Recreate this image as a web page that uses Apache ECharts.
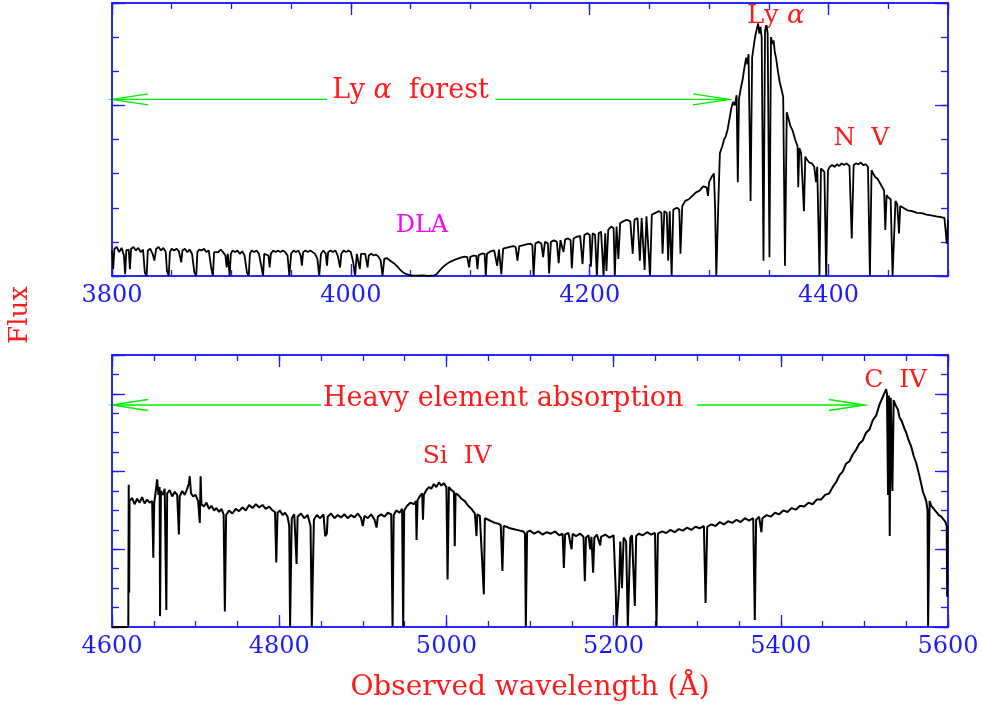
<!DOCTYPE html>
<html>
<head>
<meta charset="utf-8">
<title>Quasar spectrum</title>
<script src="https://cdn.jsdelivr.net/npm/echarts@6/dist/echarts.min.js"></script>
<style>
  html, body { margin: 0; padding: 0; background: #fff; }
  #chart { width: 982px; height: 706px; }
</style>
</head>
<body>
<div id="chart"></div>
<script>
  // spectrum: [wavelength (A), flux]
  const topSpectrum = [
    [3800,0.15],[3801,0.04],[3802,0.16],[3804,0.17],[3806,0.14],[3808,0.165],[3810,0.12],[3811,0.01],[3812,0.15],[3814,0.155],
    [3815,0.04],[3816,0.16],[3818,0.17],[3820,0.15],[3822,0.165],[3824,0.14],[3826,0.155],[3827.5,0.02],[3829,0],[3830,0.15],
    [3832,0.16],[3834,0.13],[3835.5,0.09],[3837,0.16],[3839,0.17],[3841,0.15],[3843,0.165],[3845,0.14],[3846,0.03],[3847.5,0],
    [3848.5,0.14],[3850,0.16],[3852,0.15],[3854,0.16],[3856,0.145],[3858,0.08],[3859,0.15],[3861,0.16],[3863,0.14],[3865,0.155],
    [3867,0.13],[3869,0.02],[3870.5,0],[3871.5,0.14],[3873,0.155],[3875,0.15],[3877,0.16],[3879,0.14],[3881,0.15],[3883,0.05],
    [3884.5,0],[3885.5,0.14],[3887,0.15],[3889,0.14],[3891,0.155],[3893,0.14],[3895,0.12],[3896,0.05],[3897,0.13],[3898.5,0],
    [3899.5,0.13],[3901,0.15],[3903,0.14],[3905,0.15],[3907,0.13],[3909,0.145],[3911,0.12],[3913,0.02],[3914.5,0],[3915.5,0.13],
    [3917,0.15],[3919,0.14],[3921,0.15],[3923,0.13],[3925,0.06],[3926.5,0],[3927.5,0.13],[3929,0.14],[3931,0.12],[3932,0.05],
    [3933,0.13],[3935,0.15],[3937,0.14],[3939,0.15],[3941,0.14],[3943,0.15],[3945,0.14],[3947,0.12],[3948.5,0],[3950,0.13],
    [3952,0.15],[3954,0.14],[3956,0.15],[3958,0.12],[3959,0.06],[3960,0.14],[3962,0.15],[3964,0.14],[3966,0.15],[3968,0.14],
    [3970,0.13],[3972,0.1],[3973.5,0],[3975,0.13],[3977,0.15],[3979,0.13],[3980,0.06],[3981,0.14],[3983,0.15],[3985,0.14],
    [3987,0.15],[3989,0.12],[3991,0.05],[3992,0.13],[3994,0.15],[3996,0.14],[3998,0.15],[4000,0.14],[4002,0.08],[4003.5,0],
    [4005,0.13],[4006.5,0.12],[4007.5,0.04],[4008.5,0.13],[4010,0.14],[4012,0.13],[4014,0.05],[4015,0.12],[4017,0.13],[4019,0.12],
    [4021,0.125],[4023,0.115],[4025,0.09],[4026.5,0],[4028,0.1],[4030,0.105],[4033,0.09],[4036,0.075],[4039,0.055],[4041.5,0.035],
    [4044,0.02],[4046,0.012],[4050,0.003],[4055,0.002],[4060,0.004],[4065,0.001],[4070,0.004],[4072,0.012],[4073.5,0.025],[4076,0.045],
    [4078,0.058],[4081,0.075],[4084,0.086],[4088,0.098],[4092,0.108],[4095,0.114],[4097.5,0.11],[4099,0.05],[4100,0.112],[4103,0.12],
    [4105,0.118],[4106,0.04],[4107,0.122],[4110,0.132],[4112,0.13],[4113,0],[4114,0.13],[4117,0.145],[4120,0.15],[4122.5,0.06],
    [4124,0.155],[4126,0.01],[4127.5,0.16],[4130,0.165],[4133,0.17],[4136,0.175],[4138,0.17],[4139.5,0.09],[4141,0.175],[4144,0.18],
    [4147,0.185],[4150,0.19],[4152,0.18],[4153,0],[4154.5,0.19],[4157,0.2],[4159.5,0.19],[4161,0.11],[4162.5,0.2],[4165,0.19],
    [4166,0.015],[4167.5,0.2],[4170,0.21],[4172.5,0.2],[4174,0.075],[4175.5,0.21],[4177,0.2],[4178,0.14],[4179.5,0.215],[4182,0.22],
    [4184,0.21],[4185,0.045],[4186.5,0.22],[4189,0.23],[4192,0.235],[4194,0.07],[4195.5,0.24],[4198,0.25],[4200,0.24],[4201,0.055],
    [4202.5,0.25],[4204.5,0.24],[4206,0],[4207.5,0.25],[4209.5,0.26],[4211.6,0],[4213,0.25],[4214,0.03],[4215.5,0.27],[4218,0.29],
    [4220,0.28],[4221,0],[4222.5,0.29],[4224,0.1],[4225.5,0.31],[4228,0.32],[4231,0.33],[4234,0.32],[4236,0.13],[4237.5,0.33],
    [4240,0.34],[4242,0.09],[4243.5,0.34],[4245,0.33],[4246,0.035],[4247.5,0.35],[4249,0.34],[4250.5,0],[4252,0.36],[4255,0.37],
    [4258,0.38],[4260,0.37],[4261,0.13],[4262.5,0.38],[4264.5,0.37],[4265.7,0.09],[4267,0.38],[4268.6,0],[4270,0.39],[4273,0.4],
    [4275,0.39],[4276,0.13],[4277.5,0.41],[4280,0.44],[4283,0.45],[4286,0.47],[4289,0.49],[4292,0.5],[4295,0.525],[4298,0.52],
    [4299,0.47],[4300,0.55],[4302,0.58],[4304,0.6],[4305,0.4],[4306,0],[4307,0],[4308,0.5],[4309,0.72],[4311,0.76],
    [4312.5,0.8],[4314,0.82],[4315.5,0.86],[4317,0.92],[4318.5,0.98],[4320,1.02],[4321.5,1.0],[4323,1.06],[4324,0.55],[4325,1.04],
    [4326.5,1.1],[4328,1.15],[4329.5,1.22],[4331,1.28],[4332,1.24],[4333,1.3],[4334.7,0.44],[4336,1.28],[4337,1.33],[4338,1.38],
    [4339,1.42],[4340,1.45],[4341,1.48],[4342,1.42],[4343,1.46],[4344,1.4],[4345.5,0.09],[4346.8,1.44],[4348,1.47],[4349,1.42],
    [4350.5,0.11],[4351.8,1.4],[4353,1.36],[4354,1.38],[4355,1.31],[4356,1.28],[4357.8,1.19],[4359,1.14],[4360.7,1.09],[4362,1.05],
    [4363.5,0.06],[4365,0.96],[4366.5,0.92],[4368,0.88],[4370,0.85],[4372,0.8],[4374,0.76],[4374.6,0.52],[4375.5,0.75],[4377,0.72],
    [4379.4,0.38],[4380.5,0.7],[4382,0.68],[4384,0.665],[4386,0.66],[4388,0.64],[4389.5,0.55],[4390.5,0.64],[4392.4,0],[4393.6,0.63],
    [4395,0.62],[4396.5,0.61],[4398,0],[4399.5,0.62],[4401,0.64],[4403,0.65],[4405,0.64],[4407,0.655],[4409,0.645],[4411,0.66],
    [4413,0.65],[4415,0.66],[4417.5,0.645],[4419.4,0.22],[4421,0.65],[4423,0.66],[4425,0.655],[4427,0.665],[4429,0.65],[4431,0.655],
    [4433,0.64],[4434.6,0],[4436,0.62],[4437.4,0.6],[4439,0.58],[4441,0.57],[4443,0.545],[4445,0.52],[4446.5,0.5],[4447.5,0.27],
    [4448.6,0.475],[4450,0.46],[4452,0.45],[4453.6,0],[4455,0],[4456,0.44],[4457.5,0.42],[4459,0.25],[4460,0.41],[4462.5,0.4],
    [4466,0.385],[4470,0.38],[4474,0.37],[4478,0.368],[4482,0.36],[4486,0.355],[4490,0.35],[4494,0.345],[4497,0.34],[4499,0.19],
    [4500,0.33]
  ];

  const bottomSpectrum = [
    [4600,0],[4619.5,0],[4620,1.83],[4620.5,0.44],[4621,1.62],[4624,1.66],[4627,1.58],[4630,1.65],[4633,1.6],[4636,1.67],
    [4639,1.59],[4642,1.64],[4645,1.6],[4648,1.62],[4649.4,0.89],[4650.5,1.6],[4652,1.72],[4654,1.9],[4655.5,1.7],[4657,1.8],
    [4657.5,0.14],[4658.5,1.75],[4661,1.7],[4663,1.78],[4665,0.22],[4666,1.72],[4669,1.76],[4672,1.68],[4675,1.74],[4678,1.7],
    [4680,1.19],[4681,1.68],[4684,1.75],[4687,1.7],[4690,1.78],[4692,1.85],[4693,1.94],[4694.5,1.72],[4697,1.68],[4700,1.7],
    [4703,1.62],[4705,1.34],[4706,1.94],[4707,1.58],[4710,1.55],[4713,1.6],[4716,1.52],[4719,1.56],[4722,1.5],[4725,1.53],
    [4728,1.48],[4731,1.52],[4733.5,1.45],[4735,0.2],[4736.5,1.44],[4740,1.5],[4744,1.46],[4748,1.52],[4752,1.49],[4756,1.54],
    [4760,1.5],[4764,1.57],[4768,1.53],[4772,1.58],[4776,1.54],[4780,1.57],[4784,1.52],[4788,1.55],[4792,1.5],[4795,1.48],
    [4796.5,0.83],[4798,1.47],[4801,1.5],[4804,1.44],[4807,1.47],[4810,1.42],[4812,1.3],[4813,0],[4814,0],[4815,1.4],
    [4818,1.45],[4820.8,0.81],[4822,1.42],[4826,1.46],[4830,1.4],[4834,1.44],[4837.5,1.3],[4839,0],[4840.5,0],[4841.5,1.38],
    [4845,1.44],[4849,1.4],[4853,1.45],[4855,1.17],[4857,1.2],[4858,1.42],[4862,1.46],[4866,1.4],[4870,1.44],[4874,1.41],
    [4878,1.45],[4882,1.4],[4886,1.44],[4890,1.41],[4894,1.46],[4898,1.4],[4900,1.3],[4902,1.43],[4906,1.4],[4910,1.45],
    [4914,1.38],[4916.5,1.28],[4918,1.42],[4922,1.45],[4926,1.42],[4930,1.47],[4934,1.45],[4935.6,0],[4937,1.44],[4940,1.5],
    [4944,1.47],[4947,1.52],[4948.3,0],[4949.5,1.5],[4953,1.56],[4957,1.6],[4961,1.58],[4963.5,1.62],[4964.3,1.12],[4965.5,1.63],
    [4968,1.68],[4971,1.72],[4972,1.38],[4973,1.7],[4976,1.76],[4979,1.8],[4982,1.78],[4985,1.84],[4988,1.8],[4991,1.86],
    [4994,1.82],[4997,1.85],[5000,1.8],[5001.4,0.61],[5003,1.8],[5006,1.76],[5009,1.74],[5010,1.04],[5011,1.72],[5014,1.7],
    [5018,1.65],[5022,1.62],[5026,1.56],[5030,1.52],[5034,1.46],[5036,1.17],[5037,1.45],[5040,1.43],[5042,1.42],[5044.8,0.42],
    [5046,1.4],[5050,1.38],[5054,1.36],[5058,1.34],[5062,1.33],[5065,1.31],[5067,0.72],[5068.5,1.3],[5072,1.29],[5076,1.27],
    [5080,1.26],[5084,1.25],[5088,1.24],[5092,1.23],[5094,1.2],[5095,0],[5096.5,1.22],[5100,1.24],[5105,1.2],[5110,1.23],
    [5115,1.19],[5120,1.22],[5125,1.2],[5130,1.23],[5135,1.18],[5139,1.2],[5140.5,0.76],[5142,1.19],[5146,1.21],[5149.7,1.0],
    [5151,1.2],[5155,1.17],[5160,1.2],[5164,1.16],[5165.6,0.59],[5167,1.15],[5170,1.18],[5172,1.0],[5173.5,1.16],[5175.5,0.7],
    [5177,1.15],[5180,1.19],[5184,1.05],[5185,1.16],[5190,1.19],[5195,1.15],[5200,1.18],[5202.5,0.5],[5203.5,0],[5205.5,0],
    [5206.5,0.5],[5208,1.1],[5210,0.5],[5212,1.15],[5215,1.1],[5217,0],[5218.6,0],[5220,1.15],[5222,1.18],[5225.4,0.27],
    [5227,1.17],[5230,1.2],[5235,1.18],[5240,1.22],[5245,1.19],[5249.5,1.21],[5251.3,0],[5253,1.2],[5258,1.23],[5263,1.21],
    [5268,1.25],[5273,1.22],[5278,1.26],[5283,1.24],[5288,1.28],[5293,1.25],[5298,1.29],[5303,1.27],[5308,1.3],[5310,0.31],
    [5312,1.29],[5317,1.32],[5322,1.3],[5327,1.35],[5332,1.32],[5337,1.36],[5342,1.34],[5347,1.38],[5352,1.35],[5357,1.4],
    [5362,1.37],[5367,1.4],[5368.9,0.09],[5370.5,1.38],[5374,1.42],[5376.8,1.22],[5378,1.4],[5383,1.44],[5388,1.42],[5393,1.47],
    [5398,1.45],[5403,1.5],[5408,1.48],[5413,1.53],[5418,1.51],[5423,1.56],[5428,1.55],[5433,1.6],[5438,1.58],[5443,1.64],
    [5448,1.64],[5453,1.7],[5458,1.72],[5462,1.8],[5466,1.86],[5470,1.95],[5474,2.0],[5478,2.1],[5482,2.13],[5486,2.22],
    [5490,2.28],[5494,2.36],[5498,2.4],[5502,2.5],[5506,2.54],[5510,2.66],[5514,2.72],[5518,2.86],[5520,2.88],[5522,2.96],
    [5524,2.94],[5526,3.06],[5527,3.0],[5528.3,1.7],[5529.3,2.98],[5530.3,1.17],[5531.5,2.95],[5533.5,1.75],[5535,2.92],[5537,2.86],
    [5540,2.8],[5542,2.7],[5545,2.64],[5548,2.55],[5550,2.5],[5553,2.4],[5556,2.32],[5559,2.2],[5562,2.11],[5565,1.98],
    [5568,1.84],[5570,1.74],[5572,1.68],[5574,1.62],[5575.5,1.5],[5576.2,0],[5577,0],[5578,1.62],[5580,1.56],[5583,1.52],
    [5586,1.48],[5589,1.44],[5592,1.42],[5595,1.38],[5597,1.35],[5598.5,1.3],[5599,0.39],[5599.5,1.28],[5600,1.3]
  ];

  const topRange = [3800, 4500];
  const bottomRange = [4600, 5600];

  const BLUE = '#1a1aff';
  const RED = '#ff1a1a';
  const GREEN = '#00ee00';
  const SERIF = '"DejaVu Serif", "Liberation Serif", serif';

  // one grid gets 4 x axes (major/minor, bottom/top) and 4 y axes (major/minor, left/right)
  function frameX(grid, range, showMax) {
    const base = {
      type: 'value', gridIndex: grid, min: range[0], max: range[1],
      axisLine: { show: true, onZero: false, lineStyle: { color: BLUE, width: 1.5 } },
      splitLine: { show: false }
    };
    const noLabel = { show: false };
    return [
      Object.assign({}, base, {
        position: 'bottom', interval: 200,
        axisTick: { inside: true, length: 12, lineStyle: { color: BLUE, width: 1.3 } },
        axisLabel: {
          color: BLUE, fontSize: 24, fontFamily: SERIF, margin: 8,
          showMinLabel: true, showMaxLabel: showMax,
          formatter: function (v) { return String(v); }
        }
      }),
      Object.assign({}, base, {
        position: 'bottom', interval: 50,
        axisTick: { inside: true, length: 6, lineStyle: { color: BLUE, width: 1.3 } },
        axisLabel: noLabel
      }),
      Object.assign({}, base, {
        position: 'top', interval: 200,
        axisTick: { inside: true, length: 12, lineStyle: { color: BLUE, width: 1.3 } },
        axisLabel: noLabel
      }),
      Object.assign({}, base, {
        position: 'top', interval: 50,
        axisTick: { inside: true, length: 6, lineStyle: { color: BLUE, width: 1.3 } },
        axisLabel: noLabel
      })
    ];
  }

  function frameY(grid, max, minorStep) {
    const base = {
      type: 'value', gridIndex: grid, min: 0, max: max,
      axisLine: { show: true, onZero: false, lineStyle: { color: BLUE, width: 1.5 } },
      axisLabel: { show: false },
      splitLine: { show: false }
    };
    return ['left', 'right'].flatMap(function (pos) {
      return [
        Object.assign({}, base, {
          position: pos, interval: 1,
          axisTick: { inside: true, length: 13, lineStyle: { color: BLUE, width: 1.3 } }
        }),
        Object.assign({}, base, {
          position: pos, interval: minorStep,
          axisTick: { inside: true, length: 7, lineStyle: { color: BLUE, width: 1.3 } }
        })
      ];
    });
  }

  const chart = echarts.init(document.getElementById('chart'));

  chart.setOption({
    animation: false,
    backgroundColor: '#fff',
    grid: [
      { left: 112, top: 3, width: 836, height: 273, outerBoundsMode: 'none' },
      { left: 112, top: 355, width: 836, height: 272, outerBoundsMode: 'none' }
    ],
    xAxis: frameX(0, topRange, false).concat(frameX(1, bottomRange, true)),
    yAxis: frameY(0, 1.6, 0.2).concat(frameY(1, 3.5, 0.25)),
    series: [
      {
        type: 'line', xAxisIndex: 0, yAxisIndex: 0, data: topSpectrum,
        showSymbol: false, symbol: 'none', silent: true,
        lineStyle: { color: '#000', width: 1.8 }
      },
      {
        type: 'line', xAxisIndex: 4, yAxisIndex: 4, data: bottomSpectrum,
        showSymbol: false, symbol: 'none', silent: true,
        lineStyle: { color: '#000', width: 2 }
      }
    ]
  });

  // annotations, anchored in data coordinates of each panel
  function at(si, x, y) { return chart.convertToPixel({ seriesIndex: si }, [x, y]); }

  function label(si, x, y, text, color, size) {
    const p = at(si, x, y);
    return {
      type: 'text', x: p[0], y: p[1], silent: true,
      style: {
        text: text, fill: color, fontSize: size, fontFamily: SERIF,
        align: 'center', verticalAlign: 'middle',
        rich: { i: { fontStyle: 'italic', fontSize: size, fontFamily: SERIF, fill: color } }
      }
    };
  }

  function arrow(si, x0, xText0, xText1, x1, y) {
    const a = at(si, x0, y), b = at(si, xText0, y), c = at(si, xText1, y), d = at(si, x1, y);
    const stroke = { stroke: GREEN, lineWidth: 1.4, fill: null };
    return [
      { type: 'line', silent: true, shape: { x1: a[0], y1: a[1], x2: b[0], y2: b[1] }, style: stroke },
      { type: 'polyline', silent: true, shape: { points: [[a[0] + 36, a[1] - 5.5], [a[0], a[1]], [a[0] + 36, a[1] + 5.5]] }, style: stroke },
      { type: 'line', silent: true, shape: { x1: c[0], y1: c[1], x2: d[0], y2: d[1] }, style: stroke },
      { type: 'polyline', silent: true, shape: { points: [[d[0] - 36, d[1] - 5.5], [d[0], d[1]], [d[0] - 36, d[1] + 5.5]] }, style: stroke }
    ];
  }

  chart.setOption({
    graphic: [].concat(
      arrow(0, 3800, 3980, 4121, 4316.7, 1.035),
      arrow(1, 4600, 4850, 5299.5, 5500.4, 2.856),
      [
        label(0, 4050, 1.082, 'Ly {i|α}  forest', RED, 27),
        label(0, 4355.8, 1.52, 'Ly {i|α}', RED, 26),
        label(0, 4427.5, 0.806, 'N  V', RED, 25),
        label(0, 4059.5, 0.294, 'DLA', '#ff00ff', 24),
        label(1, 5068, 2.94, 'Heavy element absorption', RED, 27),
        label(1, 5012.9, 2.19, 'Si  IV', RED, 25),
        label(1, 5537.4, 3.17, 'C  IV', RED, 25),
        {
          type: 'text', x: 530, y: 688, silent: true,
          style: { text: 'Observed wavelength (Å)', fill: RED, fontSize: 28, fontFamily: SERIF, align: 'center', verticalAlign: 'middle' }
        },
        {
          type: 'text', x: 20, y: 315, rotation: Math.PI / 2, silent: true,
          style: { text: 'Flux', fill: RED, fontSize: 26, fontFamily: SERIF, align: 'center', verticalAlign: 'middle' }
        }
      ]
    )
  });
</script>
</body>
</html>
